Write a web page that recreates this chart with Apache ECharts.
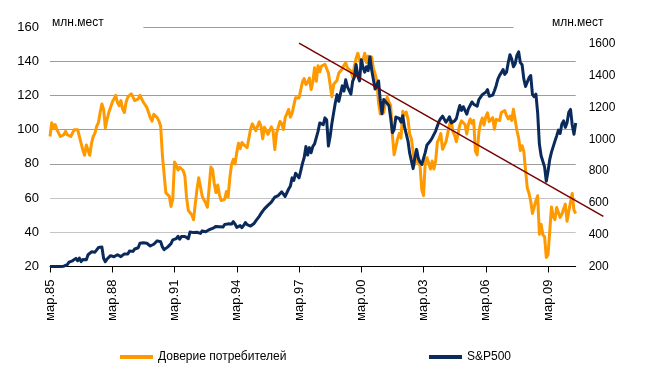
<!DOCTYPE html>
<html>
<head>
<meta charset="utf-8">
<script src="https://cdn.jsdelivr.net/npm/echarts@6/dist/echarts.min.js"></script>
<style>html,body{margin:0;padding:0;background:#fff}#chart{width:650px;height:377px}</style>
</head>
<body>
<div id="chart"></div>
<script>
// ---- data (monthly, Mar 1985 .. Jul 2010) ----
const startYear = 1985, startMonth = 3;
const tickLabels = ['мар.85','мар.88','мар.91','мар.94','мар.97','мар.00','мар.03','мар.06','мар.09'];
const tickStepMonths = 36;
const seriesNames = ['Доверие потребителей', 'S&P500'];
const axisUnit = 'млн.мест';

const consumerConfidence = [
  96,104,101,103,100,98,96,95,97,99,
  97,96,96,95,100,99,100,100,92,88,85,91,
  90,85,92,96,98,102,104,110,115,112,101,106,
  110,113,116,118,120,116,114,117,112,110,116,119,
  118,121,119,117,116,118,120,119,116,116,113,110,
  107,105,109,110,107,105,102,85,85,63,62,61,
  55.1,59.4,81.1,79.4,76.4,78.0,77.7,76.1,72.9,60.1,52.7,52.5,
  50.2,47.3,56.5,65.1,71.9,72.6,61.2,59.0,57.3,54.6,65.6,78.1,
  76.7,68.5,63.2,67.6,61.9,58.6,59.2,59.3,63.8,60.5,71.9,79.8,
  82.6,79.9,86.7,92.1,88.9,92.5,91.3,90.4,89.5,89.1,100.4,103.4,
  101.4,99.4,100.2,104.6,102.0,94.6,101.4,102.4,97.3,96.3,101.6,99.2,
  88.4,98.0,98.4,104.8,103.5,100.1,107.0,109.4,111.8,107.3,109.5,114.2,
  118.7,118.9,118.5,118.5,127.9,129.9,126.3,127.6,130.2,123.4,128.1,136.2,
  128.3,137.4,133.8,137.2,136.3,138.2,137.2,133.1,126.4,119.3,126.4,126.7,
  128.9,133.1,134.0,135.5,137.7,139.0,136.2,136.0,134.2,130.5,137.0,141.7,
  144.7,140.8,137.1,137.7,144.7,139.2,143.0,140.8,142.5,135.8,132.6,128.6,
  115.7,109.2,116.9,109.9,116.1,118.9,116.3,114.0,97.0,85.3,84.9,94.6,
  97.8,95.0,110.7,108.5,110.3,106.3,97.4,94.5,93.7,79.6,84.9,80.7,
  78.8,64.8,61.4,81.0,83.6,83.5,77.0,81.7,77.0,81.7,92.5,94.8,
  97.7,88.5,88.5,93.0,93.1,102.8,105.7,98.7,96.7,92.9,92.6,102.7,
  105.1,104.4,103.0,97.5,103.1,106.2,103.6,105.5,87.5,85.2,98.3,103.8,
  106.8,102.7,107.5,109.8,104.7,105.4,107.0,100.2,105.9,105.1,105.3,110.0,
  110.2,111.2,108.2,106.3,108.0,105.3,111.9,105.6,99.5,95.2,87.8,90.6,
  87.3,76.4,65.9,62.8,58.1,51.0,51.9,58.5,61.4,38.8,44.7,38.6,
  37.4,25.3,26.9,40.8,54.8,49.3,47.4,54.5,53.4,48.7,50.6,53.6,
  56.5,46.4,52.3,57.7,62.7,52.9,51.0
];

const sp500 = [
  181,180,190,192,191,189,182,190,202,211,
  212,227,239,236,247,251,236,253,231,244,249,242,
  274,284,292,288,290,304,319,330,322,252,230,247,
  257,268,259,261,262,274,272,262,272,279,274,278,
  298,289,295,310,321,318,346,352,349,340,346,353,
  329,332,340,331,361,358,356,323,306,304,322,330,
  344,367,375,375,390,371,388,395,388,393,375,417,
  409,413,404,415,415,408,424,414,418,419,431,436,
  439,443,452,440,450,451,448,464,459,468,462,467,
  482,467,446,451,457,444,458,476,463,472,454,459,
  470,487,501,515,533,545,562,562,584,582,605,616,
  636,640,646,654,669,671,640,652,687,705,757,741,
  786,791,757,801,848,885,954,900,947,915,955,970,
  980,1049,1102,1112,1091,1134,1121,957,1017,1099,1164,1229,
  1280,1238,1286,1335,1302,1373,1329,1320,1283,1363,1389,1469,
  1395,1366,1499,1452,1421,1455,1431,1518,1437,1429,1315,1320,
  1366,1240,1160,1249,1256,1224,1211,1134,1041,1060,1139,1148,
  1130,1107,1147,1077,1067,990,912,916,815,886,936,880,
  856,841,848,917,964,975,990,1008,996,1051,1058,1112,
  1131,1145,1126,1107,1121,1141,1102,1104,1115,1130,1174,1212,
  1181,1204,1181,1157,1192,1191,1234,1220,1229,1207,1249,1248,
  1280,1281,1295,1311,1270,1270,1277,1304,1336,1378,1401,1418,
  1438,1407,1421,1482,1531,1503,1455,1474,1527,1549,1481,1468,
  1379,1331,1323,1386,1400,1280,1267,1283,1166,969,896,903,
  826,735,798,873,919,919,988,1021,1057,1036,1096,1115,
  1074,1104,1169,1187,1089,1031,1102
];

// trend line drawn on the S&P scale (date, index level); it runs past the plot's right edge
const trendLine = [['1997-03', 1604], ['2011-11', 515]];

const leftAxisRange = {min: 20, max: 160, interval: 20};
const rightAxisRange = {min: 200, max: 1705, interval: 200};

// ---- helpers / layout ----
function monthIndex(s) {
  const p = s.split('-').map(Number);
  return (p[0] - startYear) * 12 + (p[1] - startMonth);
}
const lastIndex = consumerConfidence.length - 1;
const trendLastIndex = monthIndex(trendLine[trendLine.length - 1][0]);
const tickValues = tickLabels.map((_, i) => i * tickStepMonths);
const FONT = '"Liberation Sans", Arial, sans-serif';
const ORANGE = '#FF9900', NAVY = '#0B2A5C', TREND = '#7A0000';
// visible part of the top (160) gridline, in months (rest is hidden behind the unit labels)
const topGridFrom = 54, topGridTo = 268;

const plotLeft = 50, plotRight = 575.7, plotTop = 27, plotBottom = 266.5, W = 650, H = 377;
const pxPerMonth = (plotRight - plotLeft) / lastIndex;
const trendGridRight = W - (plotLeft + trendLastIndex * pxPerMonth);

const chart = echarts.init(document.getElementById('chart'), null, {renderer: 'canvas'});
chart.setOption({
  animation: false,
  backgroundColor: '#fff',
  textStyle: {fontFamily: FONT},
  grid: [
    {left: plotLeft, right: W - plotRight, top: plotTop, bottom: H - plotBottom, containLabel: false, outerBoundsMode: 'none'},
    // same vertical scale, wider horizontal extent: used only for the trend line
    {left: plotLeft, right: trendGridRight, top: plotTop, bottom: H - plotBottom, containLabel: false, outerBoundsMode: 'none'}
  ],
  legend: [
    {data: [seriesNames[0]], left: 120, top: 351, icon: 'rect', itemWidth: 33, itemHeight: 4, padding: 0,
     textStyle: {fontSize: 12, color: '#000', fontFamily: FONT}},
    {data: [seriesNames[1]], left: 429, top: 351, icon: 'rect', itemWidth: 33, itemHeight: 4, padding: 0,
     textStyle: {fontSize: 12, color: '#000', fontFamily: FONT}}
  ],
  xAxis: [
    {
      type: 'value', gridIndex: 0, min: 0, max: lastIndex, interval: tickStepMonths,
      axisLine: {show: true, onZero: false, lineStyle: {color: '#000', width: 1}},
      axisTick: {show: true, length: 6, inside: false, customValues: tickValues, lineStyle: {color: '#000'}},
      axisLabel: {
        customValues: tickValues, rotate: 90, margin: 13, fontSize: 13, color: '#000', fontFamily: FONT,
        padding: [8, 0, 0, 0],
        formatter: v => (v % tickStepMonths === 0 ? (tickLabels[v / tickStepMonths] || '') : '')
      },
      splitLine: {show: false}
    },
    {type: 'value', gridIndex: 1, min: 0, max: trendLastIndex, show: false}
  ],
  yAxis: [
    {
      type: 'value', gridIndex: 0, position: 'left', min: leftAxisRange.min, max: leftAxisRange.max, interval: leftAxisRange.interval,
      name: axisUnit, nameLocation: 'end', nameGap: -2,
      nameTextStyle: {align: 'left', verticalAlign: 'bottom', fontSize: 12, color: '#000', fontFamily: FONT, padding: [0, 0, 0, 2]},
      axisLine: {show: false}, axisTick: {show: false},
      axisLabel: {fontSize: 13, color: '#000', margin: 11, fontFamily: FONT},
      splitLine: {show: true, showMinLine: false, showMaxLine: false,
        lineStyle: {width: 1, color: ['#c4c4c4', '#c4c4c4', '#9c9c9c', '#9c9c9c', '#9c9c9c', '#9c9c9c']}}
    },
    {
      type: 'value', gridIndex: 0, position: 'right', min: rightAxisRange.min, max: rightAxisRange.max, interval: rightAxisRange.interval,
      name: axisUnit, nameLocation: 'end', nameGap: -2,
      nameTextStyle: {align: 'center', verticalAlign: 'bottom', fontSize: 12, color: '#000', fontFamily: FONT, padding: [0, 0, 0, 4]},
      axisLine: {show: false}, axisTick: {show: false},
      axisLabel: {fontSize: 12, color: '#000', margin: 13, fontFamily: FONT, showMaxLabel: false, formatter: v => String(v)},
      splitLine: {show: false}
    },
    {type: 'value', gridIndex: 1, min: rightAxisRange.min, max: rightAxisRange.max, show: false}
  ],
  series: [
    {
      name: seriesNames[0], type: 'line', xAxisIndex: 0, yAxisIndex: 0, color: ORANGE,
      data: consumerConfidence.map((v, i) => [i, v]),
      symbol: 'none', showSymbol: false, z: 2,
      lineStyle: {width: 3, color: ORANGE, join: 'round'},
      markLine: {
        silent: true, symbol: 'none', label: {show: false},
        lineStyle: {color: '#9c9c9c', width: 1, type: 'solid'},
        data: [[{coord: [topGridFrom, leftAxisRange.max]}, {coord: [topGridTo, leftAxisRange.max]}]]
      }
    },
    {
      name: seriesNames[1], type: 'line', xAxisIndex: 0, yAxisIndex: 1, color: NAVY,
      // values below the axis minimum are drawn on the axis, as in the original
      data: sp500.map((v, i) => [i, Math.max(v, rightAxisRange.min)]),
      symbol: 'none', showSymbol: false, z: 3,
      lineStyle: {width: 3, color: NAVY, join: 'round'}
    },
    {
      name: 'trend', type: 'line', xAxisIndex: 1, yAxisIndex: 2, silent: true,
      data: trendLine.map(d => [monthIndex(d[0]), d[1]]),
      symbol: 'none', z: 4,
      lineStyle: {width: 1.5, color: TREND}
    }
  ]
});
</script>
</body>
</html>
